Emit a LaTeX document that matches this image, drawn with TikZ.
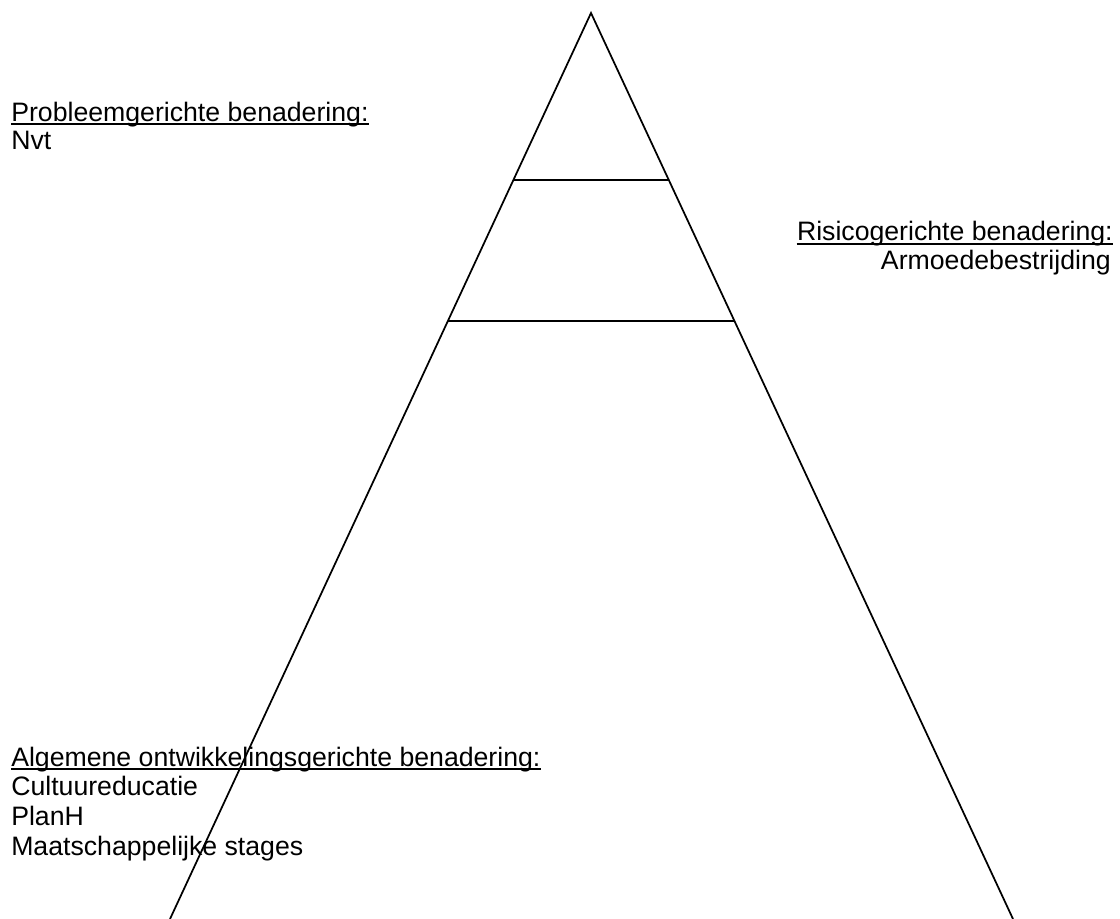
\documentclass[tikz,border=0pt]{standalone}
\usepackage{fontspec}
\setmainfont{Liberation Sans}
\usetikzlibrary{calc}

\tikzset{
  txt/.style={inner sep=0pt, font=\fontsize{20}{22}\selectfont},
  ul/.style={line width=1.4pt},
  edge/.style={line width=1.3pt}
}

\begin{document}
\begin{tikzpicture}[x=0.75pt,y=0.75pt,yscale=-1,xscale=1]
	\useasboundingbox (0,0) rectangle (1120,919);
	
	%Shape: Triangle
	\coordinate (apex) at (591,13);
	\coordinate (bl) at (170,919);
	\coordinate (br) at (1013,919);
	\draw [edge] (bl) -- (apex) -- (br);
	%Straight Lines
	\draw [edge] ($(apex)!0.1843!(bl)$) -- ($(apex)!0.1843!(br)$);
	\draw [edge] ($(apex)!0.34!(bl)$) -- ($(apex)!0.34!(br)$);
	
	% Text Node
	\node (prob) at (11,121.5) [txt,anchor=base west] {Probleemgerichte benadering:};
	\draw [ul] ([yshift=2.2pt]prob.base west) -- ([yshift=2.2pt]prob.base east);
	% Text Node
	\node (nvt) at (11,150) [txt,anchor=base west] {Nvt};
	% Text Node
	\node (risico) at (1113,241) [txt,anchor=base east] {Risicogerichte benadering:};
	\draw [ul] ([yshift=2.2pt]risico.base west) -- ([yshift=2.2pt]risico.base east);
	% Text Node
	\node (armoede) at (1111,270) [txt,anchor=base east] {Armoedebestrijding};
	% Text Node
	\node (alg) at (11,766) [txt,anchor=base west] {Algemene ontwikkelingsgerichte benadering:};
	\draw [ul] ([yshift=2.2pt]alg.base west) -- ([yshift=2.2pt]alg.base east);
	% Text Node
	\node (cultuur) at (11,795.5) [txt,anchor=base west] {Cultuureducatie};
	% Text Node
	\node (planh) at (11,825) [txt,anchor=base west] {PlanH};
	% Text Node
	\node (stages) at (11,855) [txt,anchor=base west] {Maatschappelijke stages};
	
\end{tikzpicture}
\end{document}
